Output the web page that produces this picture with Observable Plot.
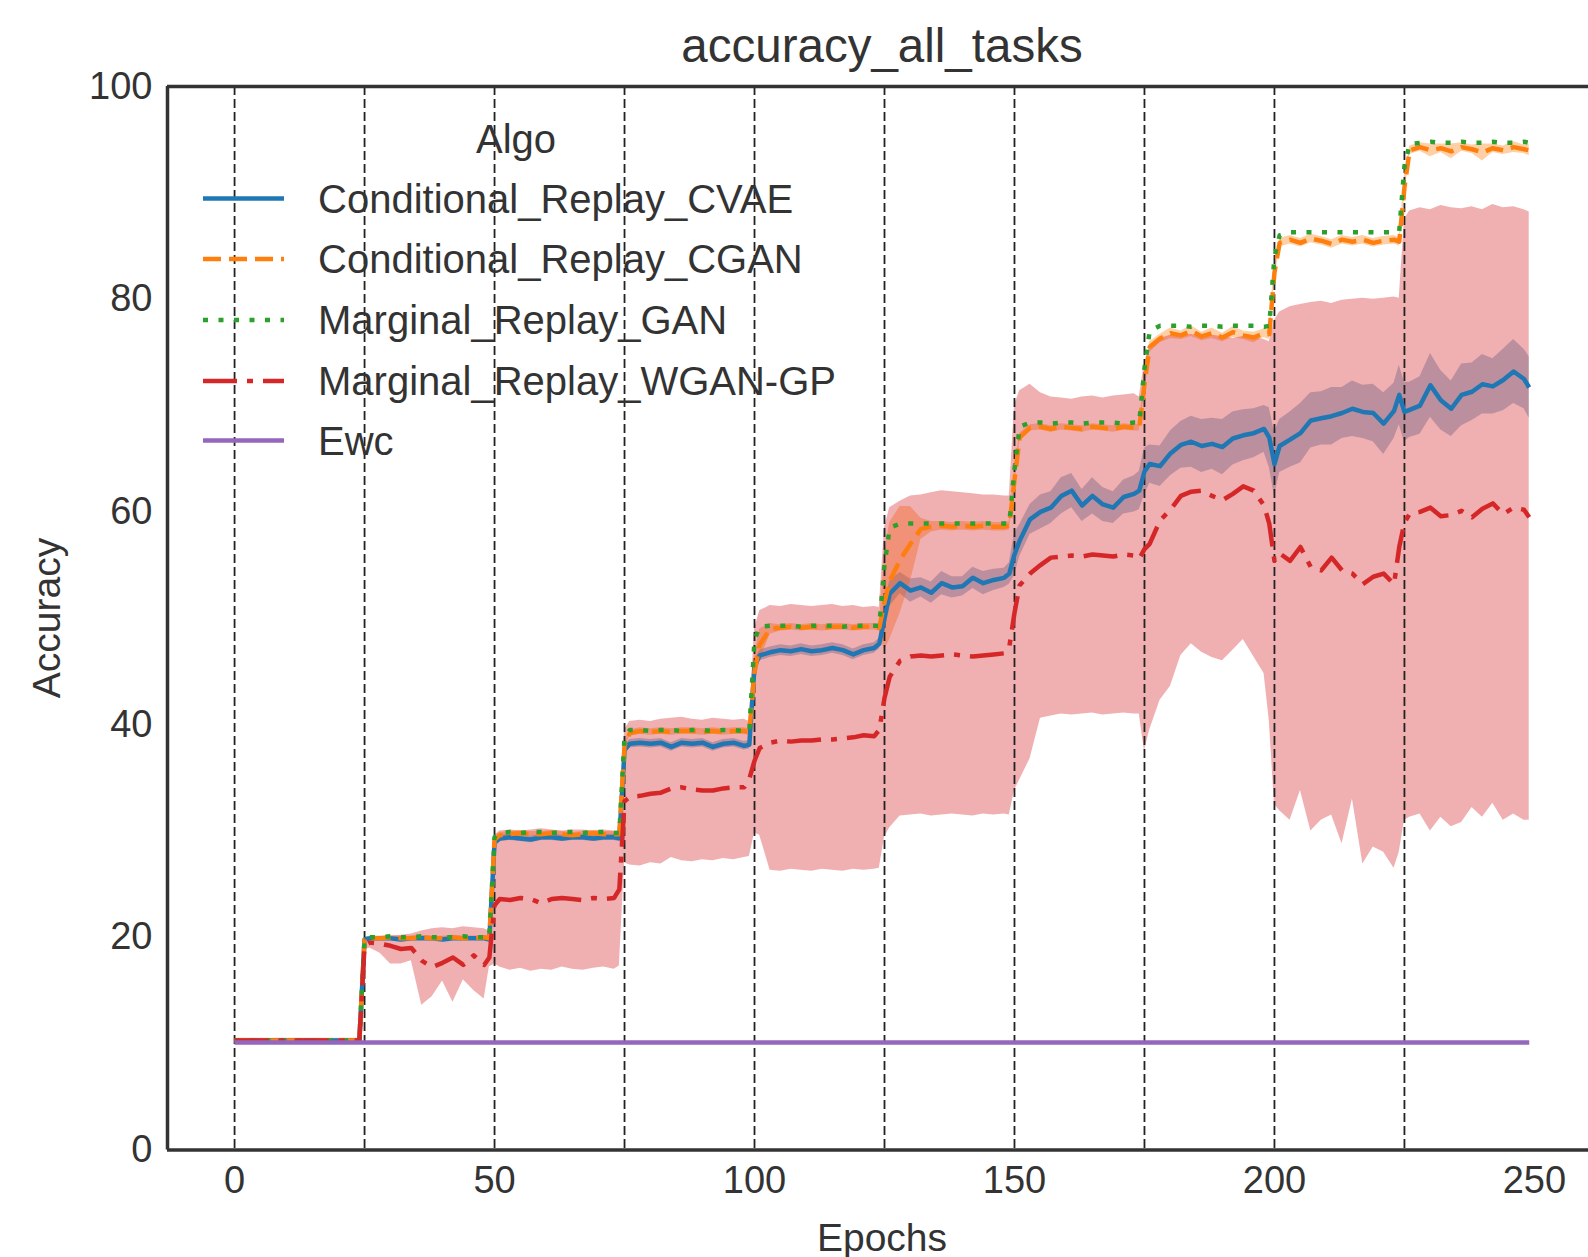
<!DOCTYPE html>
<html>
<head>
<meta charset="utf-8">
<script src="https://cdn.jsdelivr.net/npm/d3@7"></script>
<script src="https://cdn.jsdelivr.net/npm/@observablehq/plot@0.6"></script>
<style>
  html, body { margin: 0; padding: 0; background: #fff; }
  #chart { width: 1588px; height: 1257px; }
</style>
</head>
<body>
<div id="chart"></div>
<script>
// ---------------- DATA ----------------
const chartTitle = "accuracy_all_tasks";
const xLabel = "Epochs";
const yLabel = "Accuracy";
const legendTitle = "Algo";
const algoNames = ["Conditional_Replay_CVAE", "Conditional_Replay_CGAN", "Marginal_Replay_GAN", "Marginal_Replay_WGAN-GP", "Ewc"];
const algoColors = ["#1f77b4", "#ff7f0e", "#2ca02c", "#d62728", "#9467bd"];
const xTicks = [0, 50, 100, 150, 200, 250];
const yTicks = [0, 20, 40, 60, 80, 100];
const taskBoundaries = [0, 25, 50, 75, 100, 125, 150, 175, 200, 225];

const epochs = [
0,1,3,5,7,9,11,13,15,17,19,21,23,24,
25,26,28,30,32,34,36,38,40,42,44,46,48,49,
50,51,53,55,57,59,61,63,65,67,69,71,73,74,
75,76,78,80,82,84,86,88,90,92,94,96,98,99,
100,101,103,105,107,109,111,113,115,117,119,121,123,124,
125,126,128,130,132,134,136,138,140,142,144,146,148,149,
150,151,153,155,157,159,161,163,165,167,169,171,173,174,
175,176,178,180,182,184,186,188,190,192,194,196,198,199,
200,201,203,205,207,209,211,213,215,217,219,221,223,224,
225,226,228,230,232,234,236,238,240,242,244,246,248,249];

// Conditional_Replay_CVAE (mean, half-width of band)
const cvaeMean = [
10.3,10.3,10.3,10.3,10.3,10.3,10.3,10.3,10.3,10.3,10.3,10.3,10.3,10.3,
19.8,19.9,19.9,19.9,19.8,19.9,19.9,19.9,19.8,19.9,19.9,19.9,19.9,19.8,
28.9,29.3,29.4,29.3,29.2,29.4,29.4,29.3,29.4,29.4,29.3,29.4,29.4,29.3,
37.6,38.2,38.3,38.2,38.3,37.9,38.3,38.2,38.3,37.9,38.2,38.3,38.0,38.1,
45.5,46.5,46.8,47.0,46.9,47.1,46.9,47.0,47.2,47.0,46.6,47.0,47.2,47.6,
50.0,52.3,53.3,52.6,52.9,52.4,53.3,52.9,53.0,53.8,53.3,53.6,53.8,54.2,
56.0,57.3,59.3,60.0,60.4,61.5,62.0,60.6,61.5,60.7,60.4,61.4,61.7,62.0,
63.8,64.5,64.3,65.5,66.3,66.6,66.2,66.4,66.1,66.9,67.2,67.4,67.8,67.0,
64.5,66.2,66.8,67.4,68.6,68.8,69.0,69.3,69.7,69.4,69.3,68.3,69.5,71.0,
69.4,69.6,70.0,71.9,70.5,69.7,71.0,71.3,72.0,71.8,72.4,73.2,72.5,71.7];
const cvaeSpread = [
0.1,0.1,0.1,0.1,0.1,0.1,0.1,0.1,0.1,0.1,0.1,0.1,0.1,0.1,
0.2,0.2,0.2,0.2,0.2,0.2,0.2,0.2,0.2,0.2,0.2,0.2,0.2,0.2,
0.3,0.3,0.3,0.3,0.3,0.3,0.3,0.3,0.3,0.3,0.3,0.3,0.3,0.3,
0.4,0.4,0.4,0.4,0.4,0.4,0.4,0.4,0.4,0.4,0.4,0.4,0.4,0.4,
0.5,0.5,0.5,0.5,0.5,0.5,0.5,0.5,0.5,0.5,0.5,0.5,0.5,0.5,
1.5,1.2,1.0,1.1,0.9,1.0,1.1,1.0,0.9,1.0,1.1,1.0,0.9,1.0,
2.0,1.5,1.4,1.6,1.5,1.7,1.6,1.5,1.7,1.6,1.5,1.6,1.7,1.8,
2.2,1.8,1.9,2.1,2.2,2.4,2.5,2.4,2.6,2.5,2.4,2.3,2.2,2.8,
3.0,2.5,2.6,2.8,2.6,2.5,2.7,2.4,2.6,2.5,2.7,2.9,2.6,2.8,
2.8,2.6,2.7,3.0,2.8,2.6,2.9,2.7,2.8,2.6,2.9,3.0,2.8,2.9];

// Conditional_Replay_CGAN
const cganMean = [
10.3,10.3,10.3,10.3,10.3,10.3,10.3,10.3,10.3,10.3,10.3,10.3,10.3,10.3,
19.8,19.9,19.9,20.0,19.9,19.9,20.0,19.9,19.9,20.0,19.9,19.9,20.0,19.9,
29.2,29.6,29.7,29.8,29.7,29.7,29.8,29.7,29.6,29.7,29.8,29.7,29.7,29.7,
38.0,39.2,39.4,39.3,39.4,39.3,39.4,39.4,39.3,39.4,39.3,39.4,39.4,39.3,
45.0,47.5,49.0,49.1,49.2,49.1,49.2,49.1,49.2,49.2,49.1,49.2,49.2,49.1,
51.5,53.5,55.5,57.0,58.4,58.6,58.7,58.6,58.7,58.6,58.7,58.6,58.6,58.7,
63.0,67.0,67.9,68.0,67.8,68.0,67.9,67.8,68.0,67.9,67.8,68.0,67.9,67.9,
72.0,75.5,76.3,76.8,76.6,77.0,76.5,76.8,76.4,76.9,76.6,76.4,76.8,76.7,
82.5,85.3,85.6,85.3,85.7,85.5,85.2,85.6,85.4,85.6,85.3,85.5,85.6,85.4,
90.5,94.0,94.3,94.0,94.2,93.9,94.3,94.1,93.8,94.2,94.0,94.3,94.1,94.0];
const cganSpread = [
0.1,0.1,0.1,0.1,0.1,0.1,0.1,0.1,0.1,0.1,0.1,0.1,0.1,0.1,
0.2,0.2,0.2,0.2,0.2,0.2,0.2,0.2,0.2,0.2,0.2,0.2,0.2,0.2,
0.25,0.25,0.25,0.25,0.25,0.25,0.25,0.25,0.25,0.25,0.25,0.25,0.25,0.25,
0.3,0.3,0.3,0.3,0.3,0.3,0.3,0.3,0.3,0.3,0.3,0.3,0.3,0.3,
1.5,1.5,0.5,0.3,0.3,0.3,0.3,0.3,0.3,0.3,0.3,0.3,0.3,0.3,
4.5,5.5,5.0,3.5,1.0,0.5,0.4,0.4,0.4,0.4,0.4,0.4,0.4,0.4,
1.0,0.4,0.3,0.3,0.3,0.3,0.3,0.3,0.3,0.3,0.3,0.3,0.3,0.3,
1.0,0.5,0.4,0.5,0.4,0.5,0.4,0.5,0.4,0.5,0.4,0.5,0.4,0.5,
1.0,0.4,0.4,0.4,0.4,0.4,0.4,0.4,0.4,0.4,0.4,0.4,0.4,0.4,
1.0,0.4,0.4,0.6,0.4,0.7,0.4,0.4,0.8,0.4,0.4,0.5,0.4,0.5];

// Marginal_Replay_GAN
const ganMean = [
10.3,10.3,10.3,10.3,10.3,10.3,10.3,10.3,10.3,10.3,10.3,10.3,10.3,10.3,
19.9,20.0,20.0,20.1,20.0,20.0,20.1,20.0,20.0,20.0,20.1,20.0,20.0,20.0,
29.4,29.8,29.9,29.8,29.9,29.9,29.8,29.9,29.9,29.8,29.9,29.9,29.8,29.8,
38.8,39.5,39.5,39.4,39.5,39.5,39.4,39.5,39.5,39.4,39.5,39.5,39.4,39.4,
48.0,49.2,49.3,49.3,49.3,49.2,49.3,49.3,49.3,49.2,49.3,49.3,49.3,49.3,
55.0,58.5,58.9,58.9,58.9,58.9,58.9,58.9,58.9,58.9,58.9,58.9,58.9,58.9,
64.0,68.0,68.4,68.4,68.3,68.4,68.4,68.3,68.4,68.4,68.4,68.3,68.4,68.4,
73.5,77.0,77.5,77.5,77.5,77.4,77.5,77.5,77.4,77.5,77.5,77.5,77.4,77.5,
84.0,86.0,86.3,86.3,86.3,86.3,86.3,86.3,86.3,86.3,86.3,86.3,86.3,86.4,
92.5,94.6,94.7,94.8,94.7,94.7,94.8,94.7,94.7,94.8,94.7,94.7,94.8,94.7];

// Marginal_Replay_WGAN-GP (mean, band low, band high)
const wganMean = [
10.3,10.3,10.3,10.3,10.3,10.3,10.3,10.3,10.3,10.3,10.3,10.3,10.3,10.3,
19.2,19.5,19.4,19.2,18.9,19.0,17.8,17.2,17.6,18.1,17.4,18.3,17.4,18.1,
23.0,23.6,23.5,23.7,23.6,23.2,23.6,23.7,23.6,23.5,23.7,23.6,23.7,24.5,
32.8,33.2,33.3,33.5,33.6,34.0,34.1,33.9,33.8,33.8,34.0,34.1,34.1,34.9,
36.6,37.8,38.3,38.5,38.4,38.5,38.5,38.6,38.6,38.7,38.8,39.0,38.9,39.5,
42.5,44.5,46.0,46.4,46.5,46.4,46.5,46.6,46.5,46.4,46.5,46.6,46.7,47.3,
50.5,53.1,54.2,55.0,55.7,55.8,55.9,55.8,56.0,55.9,55.8,56.0,55.9,55.6,
56.5,57.0,59.2,60.2,61.5,61.9,62.0,61.5,61.1,61.7,62.4,62.0,60.6,58.9,
55.4,56.1,55.4,56.7,54.8,54.5,55.7,54.5,54.2,53.2,53.9,54.2,53.2,56.7,
59.0,59.8,60.0,60.4,59.6,59.7,60.1,59.5,60.3,60.8,59.8,60.4,60.2,59.5];
const wganLow = [
10.1,10.1,10.1,10.1,10.1,10.1,10.1,10.1,10.1,10.1,10.1,10.1,10.1,10.1,
18.8,19.0,18.5,17.5,17.5,17.8,13.6,14.4,15.9,13.9,16.0,15.0,14.2,17.2,
17.5,17.2,16.9,17.1,16.8,17.0,16.9,17.2,17.0,16.9,17.1,17.2,17.0,17.3,
27.0,26.8,26.7,27.0,26.9,27.5,27.2,27.1,27.3,27.2,27.4,27.3,27.5,27.6,
29.8,29.6,26.3,26.2,26.4,26.3,26.2,26.4,26.3,26.2,26.4,26.3,26.4,26.5,
29.4,30.3,31.4,31.5,31.6,31.4,31.5,31.6,31.5,31.4,31.6,31.5,31.6,31.5,
33.8,34.8,36.8,40.6,40.8,41.0,40.9,41.0,41.1,40.9,41.0,41.1,41.0,41.0,
37.5,39.5,42.3,43.6,46.5,47.6,46.8,46.3,46.0,47.0,48.0,46.4,44.8,40.4,
32.5,31.9,31.0,33.8,30.0,31.0,31.5,28.8,33.0,26.9,28.5,28.0,26.5,28.0,
31.0,31.3,31.6,30.0,31.3,30.4,30.8,32.2,31.3,32.6,31.0,31.6,31.0,31.0];
const wganHigh = [
10.5,10.5,10.5,10.5,10.5,10.5,10.5,10.5,10.5,10.5,10.5,10.5,10.5,10.5,
19.8,20.0,20.0,20.1,20.2,20.3,20.6,20.8,20.9,20.8,21.0,20.9,20.8,20.6,
29.6,30.0,30.1,30.0,30.1,30.2,30.1,30.0,30.1,30.1,30.0,30.1,30.0,30.0,
39.5,40.3,40.4,40.3,40.5,40.6,40.7,40.5,40.4,40.6,40.5,40.4,40.5,40.3,
49.0,50.7,51.2,51.1,51.3,51.2,51.1,51.2,51.3,51.1,51.2,51.0,51.1,51.0,
58.5,60.4,61.0,61.5,61.6,61.8,62.0,61.9,61.8,61.7,61.6,61.6,61.5,61.5,
70.0,71.4,72.0,71.2,70.8,70.7,70.6,70.8,70.9,70.7,70.9,71.0,71.1,70.8,
74.0,75.5,76.3,76.6,76.5,76.7,76.4,76.6,76.5,76.3,76.5,76.4,76.2,76.0,
78.0,78.8,79.3,79.5,79.7,79.8,79.6,79.9,80.0,80.1,80.0,80.1,80.2,80.1,
87.5,88.3,88.6,88.4,88.8,88.6,88.5,88.7,88.4,88.9,88.6,88.7,88.4,88.2];

// Ewc (flat)
const ewcEpochs = [0, 249];
const ewcMean = [10.1, 10.1];

// ---------------- STYLE ----------------
const font = "'Liberation Sans', Arial, Helvetica, sans-serif";
const textColor = "#333";
const lineWidth = 4.5;
const dashes = [null, "18,8", "5,10.5", "34,10,6,10", null];
const bandOpacity = 0.37;
const xDomain = [-12.9, 260.4];

// ---------------- TABLES ----------------
const toRows = (mean, lo, hi) => epochs.map((e, i) => ({epoch: e, acc: mean[i], lo: lo[i], hi: hi[i]}));
const cvaeRows = toRows(cvaeMean, cvaeMean.map((m, i) => m - cvaeSpread[i]), cvaeMean.map((m, i) => m + cvaeSpread[i]));
const cganRows = toRows(cganMean, cganMean.map((m, i) => m - cganSpread[i]), cganMean.map((m, i) => m + cganSpread[i]));
const ganRows = toRows(ganMean, ganMean, ganMean);
const wganRows = toRows(wganMean, wganLow, wganHigh);
const ewcRows = ewcEpochs.map((e, i) => ({epoch: e, acc: ewcMean[i]}));

const lineMark = (rows, k) => Plot.line(rows, {
  x: "epoch", y: "acc", stroke: algoColors[k], strokeWidth: lineWidth,
  strokeDasharray: dashes[k] || undefined, strokeLinecap: "butt", strokeLinejoin: "round"
});
const bandMark = (rows, k) => Plot.areaY(rows, {
  x: "epoch", y1: "lo", y2: "hi", fill: algoColors[k], fillOpacity: bandOpacity
});

const svg = Plot.plot({
  width: 1588,
  height: 1257,
  marginLeft: 167,
  marginRight: 0,
  marginTop: 86,
  marginBottom: 107.5,
  style: {fontFamily: font, color: textColor, background: "white", overflow: "visible"},
  x: {domain: xDomain, label: null},
  y: {domain: [0, 100], label: null},
  marks: [
    bandMark(cvaeRows, 0),
    bandMark(cganRows, 1),
    bandMark(wganRows, 3),
    Plot.ruleX(taskBoundaries, {stroke: "#222", strokeWidth: 1.8, strokeDasharray: "9,4"}),
    lineMark(cvaeRows, 0),
    lineMark(cganRows, 1),
    lineMark(ganRows, 2),
    lineMark(wganRows, 3),
    lineMark(ewcRows, 4),
    Plot.axisX({ticks: xTicks, tickSize: 0, tickPadding: 16, fontSize: 38, label: null, fill: textColor}),
    Plot.axisY({ticks: yTicks, tickSize: 0, tickPadding: 15, fontSize: 38, label: null, fill: textColor}),
    Plot.ruleY([0, 100], {stroke: "#333", strokeWidth: 3.5}),
    Plot.ruleX([xDomain[0]], {stroke: "#333", strokeWidth: 3.5})
  ]
});

document.getElementById("chart").appendChild(svg);

// ---------------- TITLE, AXIS LABELS, LEGEND ----------------
const g = d3.select(svg).append("g").attr("font-family", font).attr("fill", textColor);

g.append("text").attr("x", 882).attr("y", 45).attr("dy", "0.35em")
  .attr("text-anchor", "middle").attr("font-size", 47.5).text(chartTitle);
g.append("text").attr("x", 882).attr("y", 1237).attr("dy", "0.35em")
  .attr("text-anchor", "middle").attr("font-size", 39).text(xLabel);
g.append("text").attr("transform", "translate(46,618) rotate(-90)").attr("dy", "0.35em")
  .attr("text-anchor", "middle").attr("font-size", 39).text(yLabel);

const lg = g.append("g");
lg.append("text").attr("x", 516).attr("y", 139).attr("dy", "0.35em")
  .attr("text-anchor", "middle").attr("font-size", 40).text(legendTitle);
const legendY = [198.5, 259, 320, 381, 440.5];
algoNames.forEach((name, k) => {
  lg.append("line").attr("x1", 203).attr("x2", 284).attr("y1", legendY[k]).attr("y2", legendY[k])
    .attr("stroke", algoColors[k]).attr("stroke-width", lineWidth)
    .attr("stroke-dasharray", dashes[k]);
  lg.append("text").attr("x", 318).attr("y", legendY[k]).attr("dy", "0.35em")
    .attr("text-anchor", "start").attr("font-size", 40).text(name);
});
</script>
</body>
</html>
